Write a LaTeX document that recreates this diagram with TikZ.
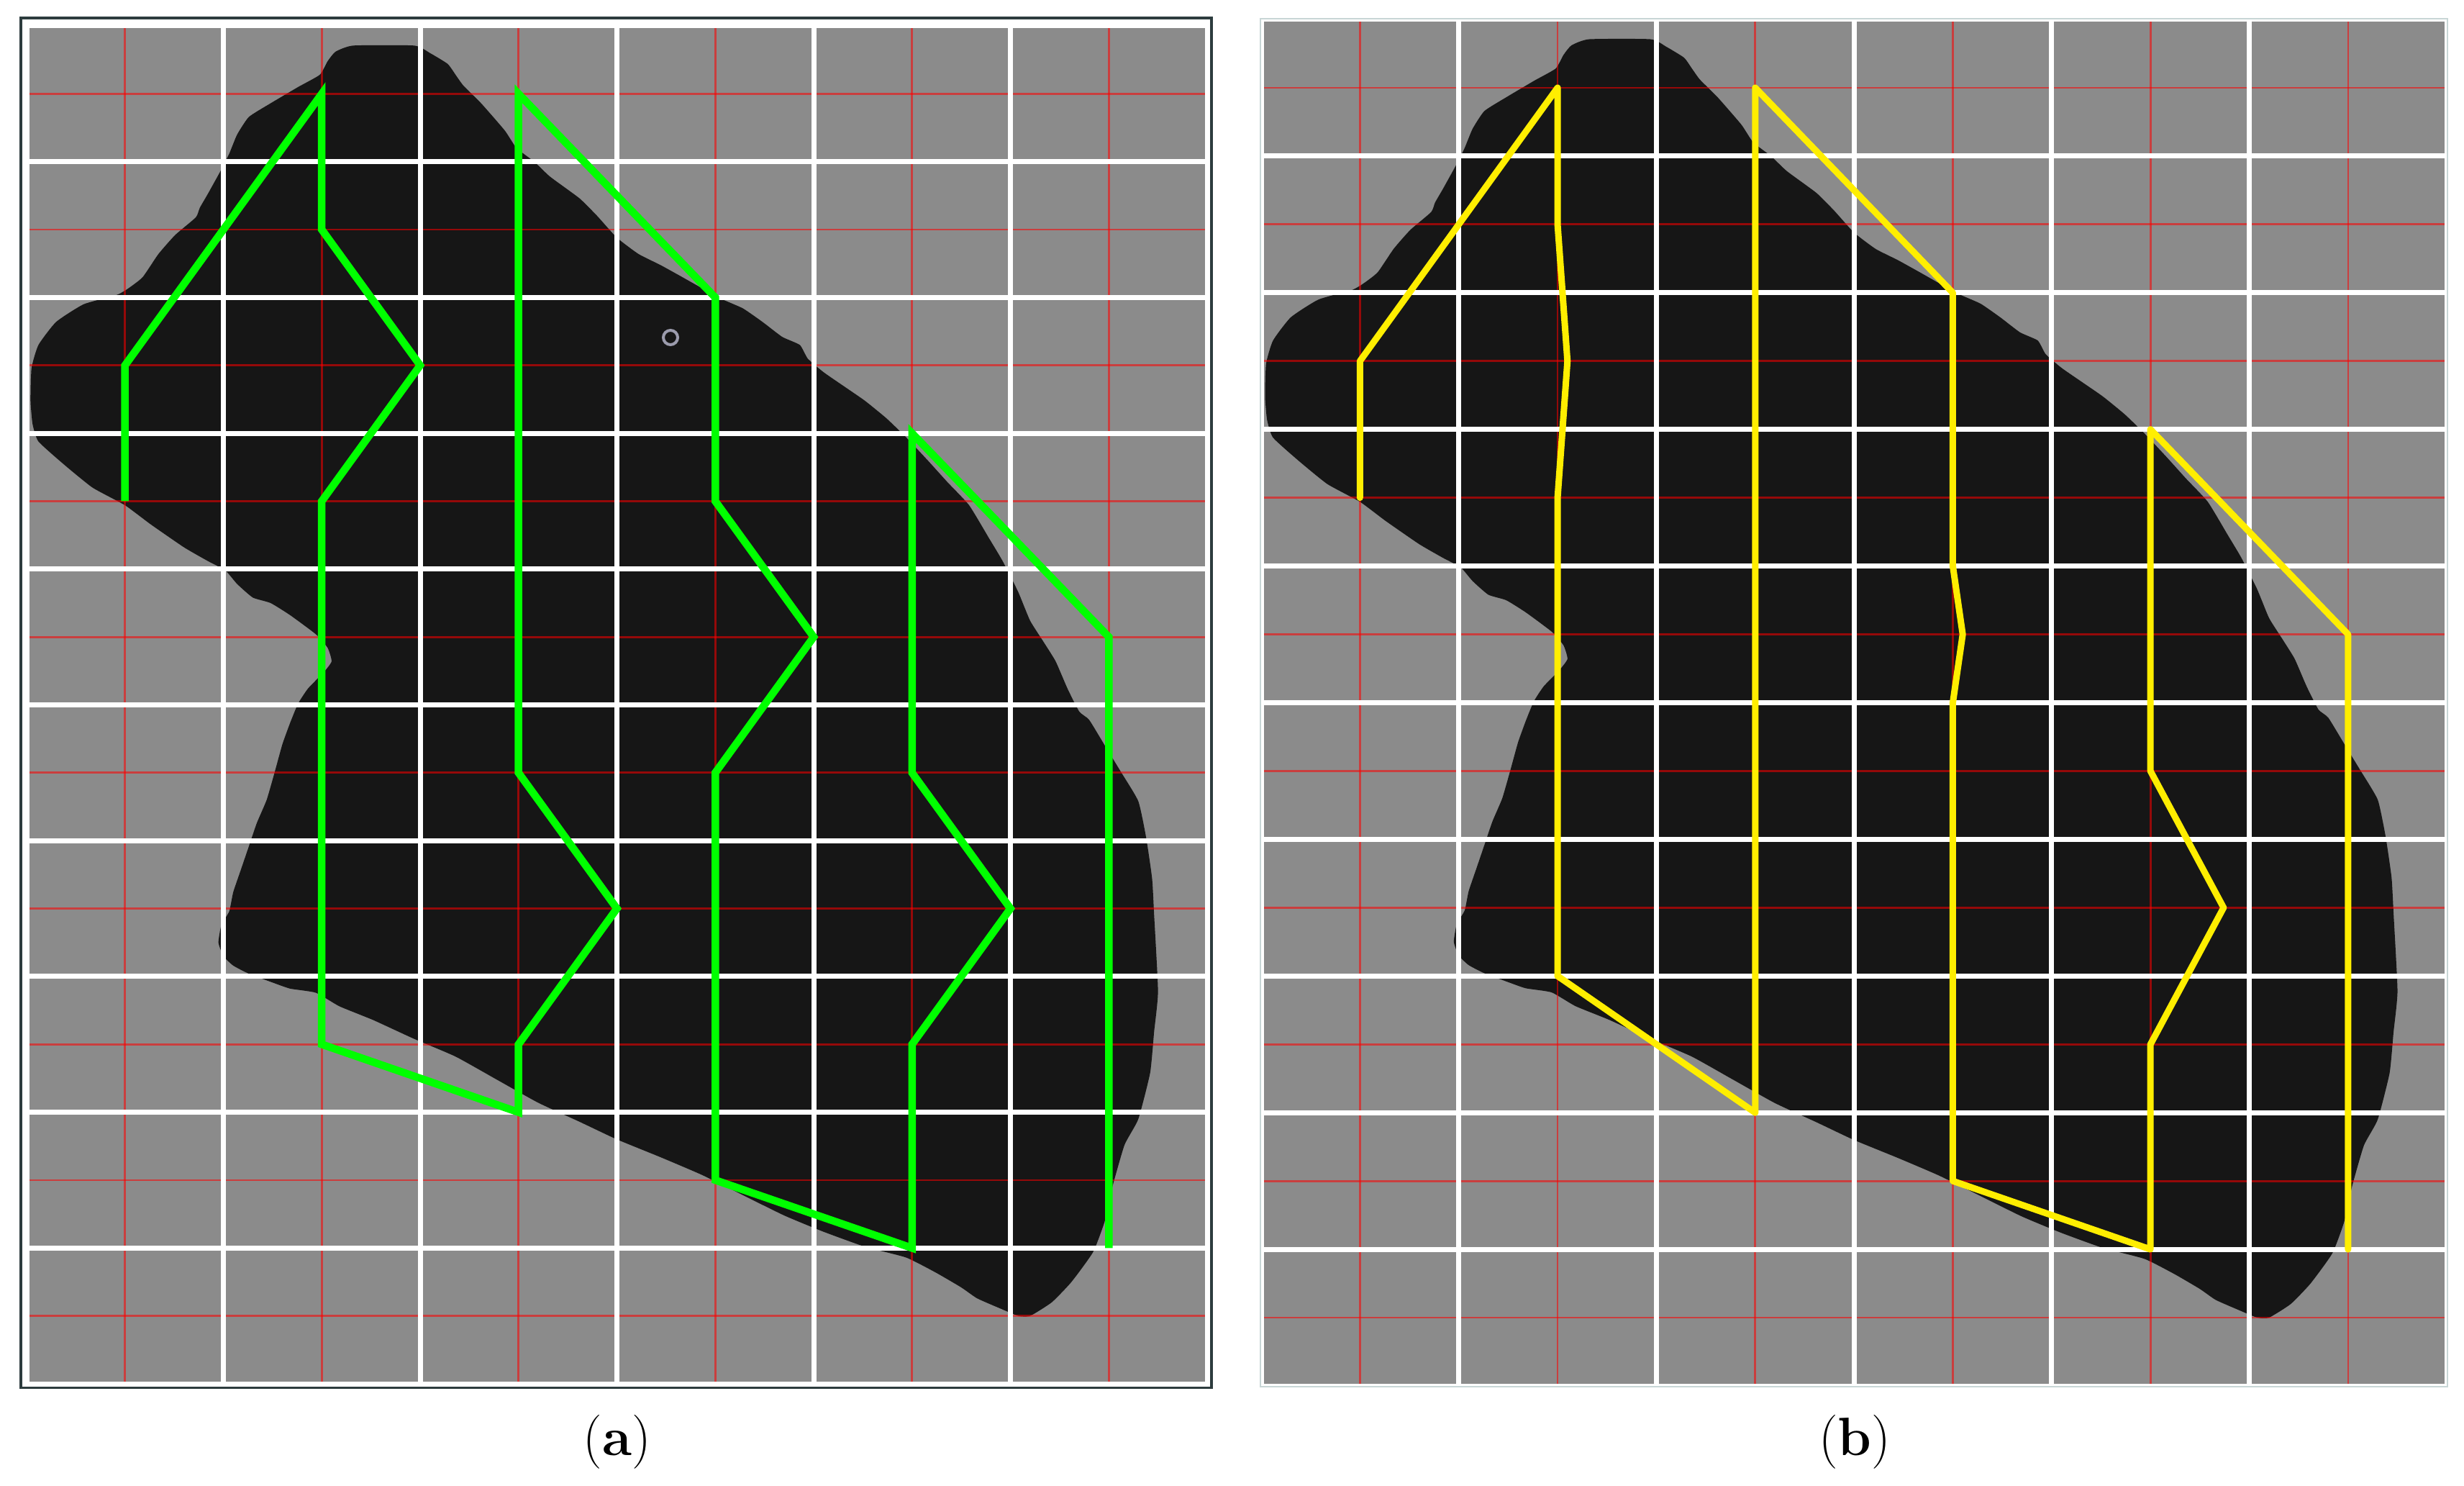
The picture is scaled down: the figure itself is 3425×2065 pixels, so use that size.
\documentclass[tikz,border=0pt]{standalone}
\definecolor{bggray}{RGB}{139,139,139}
\definecolor{blobcol}{RGB}{22,22,22}
\definecolor{gridred}{RGB}{255,0,0}
\definecolor{pathgreen}{RGB}{0,255,0}
\definecolor{pathyellow}{RGB}{255,238,0}
\definecolor{framedark}{RGB}{45,60,62}
\definecolor{framelight}{RGB}{200,214,214}
\definecolor{ringcol}{RGB}{155,155,172}
\tikzset{
  whitegrid/.style={white, line width=1.4pt, line cap=rect},
  redgrid/.style={gridred, opacity=0.55, line width=0.55pt},
  greenpath/.style={pathgreen, line width=2.1pt, miter limit=6},
  yellowpath/.style={pathyellow, line width=1.8pt, line cap=round, line join=round},
  caption/.style={font=\fontsize{15}{18}\selectfont, inner sep=0pt},
}
\newcommand{\blobshape}{%
\fill[blobcol] plot[smooth cycle, tension=0.3] coordinates {
(1.53,0.26) (1.57,0.19) (1.66,0.145) (1.97,0.145) (2.05,0.20) (2.14,0.28) (2.18,0.36) (2.22,0.44) (2.31,0.57) (2.43,0.77) (2.49,0.90) (2.58,1.0) (2.66,1.11) (2.81,1.27) (2.90,1.40) (3.0,1.56) (3.11,1.68) (3.22,1.76) (3.32,1.84) (3.43,1.93) (3.53,2.01) (3.64,2.08) (3.74,2.18) (3.84,2.29) (3.93,2.35) (3.97,2.45) (4.05,2.55) (4.16,2.66) (4.26,2.76) (4.37,2.89) (4.47,3.03) (4.58,3.20) (4.68,3.36) (4.79,3.53) (4.89,3.77) (4.96,3.94) (5.04,4.17) (5.10,4.38) (5.17,4.54) (5.23,4.68) (5.29,4.88) (5.35,5.05) (5.40,5.11) (5.48,5.30) (5.56,5.49) (5.65,5.71) (5.69,5.98) (5.72,6.28) (5.73,6.54) (5.75,7.11) (5.73,7.41) (5.71,7.71) (5.65,8.05) (5.58,8.24) (5.52,8.54) (5.48,8.80) (5.42,9.03) (5.31,9.25) (5.21,9.40) (5.10,9.50) (5.04,9.50) (4.94,9.44) (4.83,9.37) (4.75,9.29) (4.62,9.18) (4.47,9.07) (4.26,8.99) (4.05,8.88) (3.85,8.76) (3.64,8.61) (3.43,8.46) (3.22,8.33) (3.0,8.2) (2.81,8.07) (2.60,7.93) (2.39,7.76) (2.18,7.59) (1.97,7.46) (1.76,7.32) (1.59,7.22) (1.47,7.12) (1.34,7.09) (1.26,7.05) (1.13,6.98) (1.05,6.92) (1.0,6.85) (0.975,6.75) (0.99,6.62) (1.03,6.52) (1.05,6.38) (1.09,6.21) (1.13,6.04) (1.17,5.87) (1.22,5.70) (1.26,5.50) (1.30,5.29) (1.34,5.13) (1.38,4.99) (1.43,4.88) (1.51,4.76) (1.55,4.68) (1.53,4.58) (1.47,4.48) (1.34,4.34) (1.24,4.25) (1.15,4.21) (1.07,4.11) (1.01,4.01) (0.92,3.94) (0.80,3.84) (0.63,3.67) (0.50,3.53) (0.335,3.40) (0.19,3.23) (0.06,3.06) (0.03,2.93) (0.02,2.76) (0.025,2.52) (0.06,2.35) (0.15,2.18) (0.29,2.05) (0.46,1.98) (0.52,1.93) (0.59,1.85) (0.67,1.68) (0.755,1.54) (0.86,1.41) (0.88,1.34) (0.92,1.24) (0.985,1.07) (1.03,0.94) (1.07,0.80) (1.13,0.67) (1.24,0.57) (1.38,0.45) (1.49,0.36)
};}
\newcommand{\panelgrid}{%
 \foreach \i in {0.5,1.5,...,5.5} \draw[redgrid] (\i,0) -- (\i,10);
 \foreach \j in {0.5,1.5,...,9.5} \draw[redgrid] (0,\j) -- (6,\j);
 \foreach \i in {0,...,6} \draw[whitegrid] (\i,0) -- (\i,10);
 \foreach \j in {0,...,10} \draw[whitegrid] (0,\j) -- (6,\j);
}
\begin{document}
\begin{tikzpicture}[x=0.2pt, y=-0.2pt]
\useasboundingbox (0,0) rectangle (3425,2065);
\fill[white] (0,0) rectangle (3425,2065);

% ---------- panel (a) ----------
\begin{scope}[shift={(37,36)}, xscale=273.5, yscale=188.7]
  \fill[bggray] (0,0) rectangle (6,10);
  \blobshape
  \panelgrid
  \draw[greenpath] (0.5,3.5) -- (0.5,2.5) -- (1.5,0.5) -- (1.5,1.5) -- (2,2.5) -- (1.5,3.5) -- (1.5,7.5) -- (2.5,8) -- (2.5,7.5) -- (3,6.5) -- (2.5,5.5) -- (2.5,0.5) -- (3.5,2) -- (3.5,3.5) -- (4,4.5) -- (3.5,5.5) -- (3.5,8.5) -- (4.5,9) -- (4.5,7.5) -- (5,6.5) -- (4.5,5.5) -- (4.5,3) -- (5.5,4.5) -- (5.5,9);
  \draw[framedark, line width=0.7pt] (-0.03,-0.058) rectangle (6.022,10.03);
\end{scope}
\draw[ringcol, line width=0.8pt] (932,469) circle [radius=10];

% ---------- panel (b) ----------
\begin{scope}[shift={(1753,27)}, xscale=274.7, yscale=189.9]
  \fill[bggray] (0,0) rectangle (6,10);
  \blobshape
  \panelgrid
  \draw[yellowpath] (0.5,3.5) -- (0.5,2.5) -- (1.5,0.5) -- (1.5,1.5) -- (1.55,2.5) -- (1.5,3.5) -- (1.5,7.0) -- (2.5,8.0) -- (2.5,0.5) -- (3.5,2.0) -- (3.5,4.0) -- (3.55,4.5) -- (3.5,5.0) -- (3.5,8.5) -- (4.5,9.0) -- (4.5,7.5) -- (4.87,6.5) -- (4.5,5.5) -- (4.5,3.0) -- (5.5,4.5) -- (5.5,9.0);
  \draw[framelight, line width=0.4pt] (-0.004,-0.004) rectangle (6.004,10.004);
\end{scope}

\node[caption] (capa) at (858,2004) {(\textbf{a})};
\node[caption] (capb) at (2578,2004) {(\textbf{b})};
\end{tikzpicture}
\end{document}
